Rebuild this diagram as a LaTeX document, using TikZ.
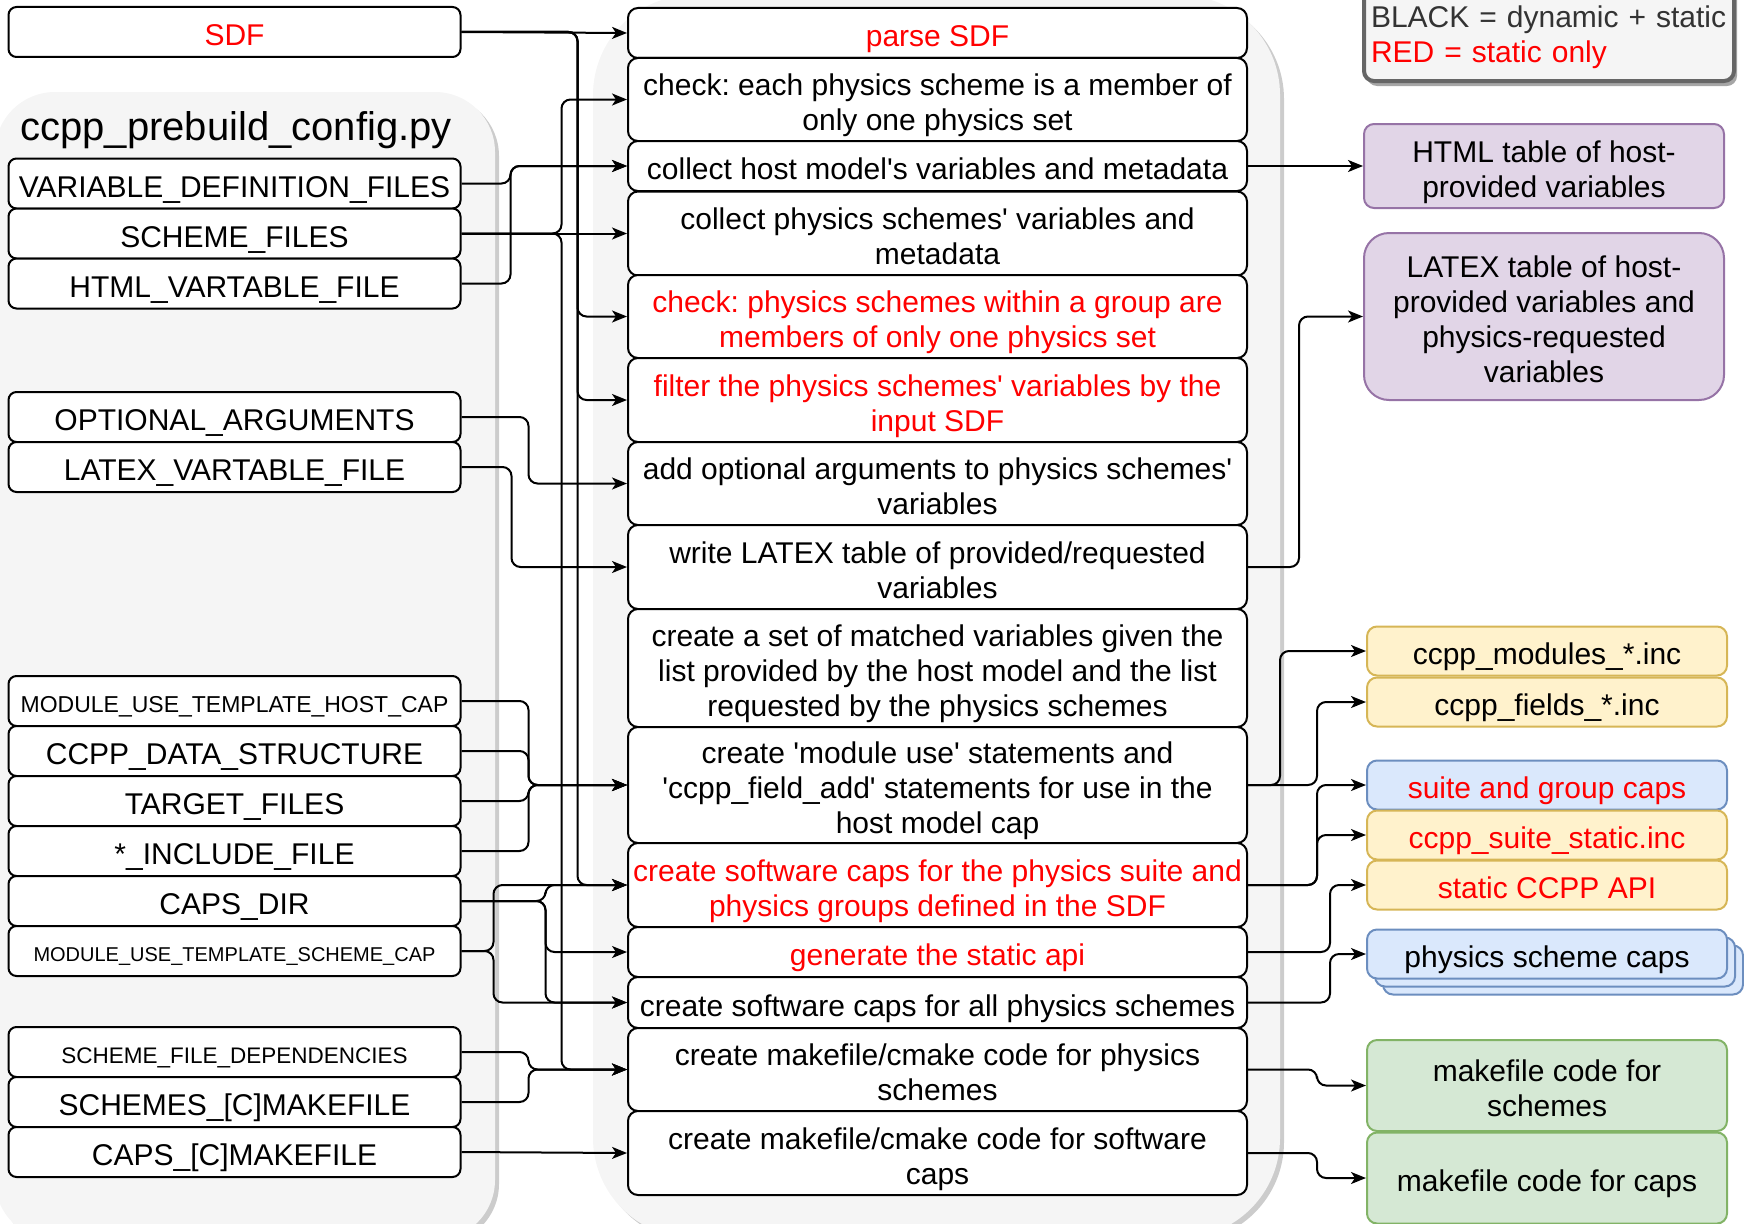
\documentclass[tikz,border=0pt]{standalone}
\usepackage{fontspec}
\setmainfont{Liberation Sans}
\usetikzlibrary{arrows.meta,shadows}
\definecolor{bggrey}{HTML}{F5F5F5}
\definecolor{legendedge}{HTML}{666666}
\definecolor{purplefill}{HTML}{E1D5E7}
\definecolor{purpleedge}{HTML}{9673A6}
\definecolor{yellowfill}{HTML}{FFF2CC}
\definecolor{yellowedge}{HTML}{D6B656}
\definecolor{bluefill}{HTML}{DAE8FC}
\definecolor{blueedge}{HTML}{6C8EBF}
\definecolor{greenfill}{HTML}{D5E8D4}
\definecolor{greenedge}{HTML}{82B366}
\definecolor{redtext}{HTML}{FF0000}
\newcommand{\aq}{\textquotesingle}
\frenchspacing

\begin{document}
\begin{tikzpicture}[x=1pt,y=-1pt,
    every node/.style={font=\fontsize{30}{35}\selectfont, inner sep=0pt, align=center, text height=30pt, text depth=2.5pt},
    twolines/.style={text height=65pt},
    threelines/.style={text height=100pt},
    fourlines/.style={text height=135pt},
    cfgbox/.style={draw, fill=white, line width=2pt, rounded corners=8pt, minimum width=452pt, minimum height=50pt},
    stepbox/.style={draw, fill=white, line width=2pt, rounded corners=10pt, minimum width=619pt},
    outbox/.style={draw, line width=2pt, rounded corners=10pt, minimum width=360pt, minimum height=49pt},
    purplebox/.style={outbox, fill=purplefill, draw=purpleedge},
    yellowbox/.style={outbox, fill=yellowfill, draw=yellowedge},
    bluebox/.style={outbox, fill=bluefill, draw=blueedge},
    greenbox/.style={outbox, fill=greenfill, draw=greenedge},
    container/.style={fill=bggrey, drop shadow={shadow xshift=4pt, shadow yshift=-4pt, fill=black!20, opacity=1}},
    conn/.style={line width=2pt, rounded corners=9pt, -{Stealth[length=15pt,width=12pt,inset=4pt]}}]
    \path[use as bounding box, clip] (0,0) rectangle (1744,1223);

    \path[container, rounded corners=60pt] (-5,92) rectangle (495,1240);
    \path[container, rounded corners=100pt] (593,-5) rectangle (1280,1238);

    \node[font=\fontsize{40}{48}\selectfont, text height=38pt, text depth=3.4pt] (cfgtitle) at (236,123) {ccpp\_prebuild\_config.py};

    \node[cfgbox, text=redtext] (sdf) at (234.5,32) {SDF};
    \node[cfgbox] (vardef) at (234.5,183.5) {VARIABLE\_DEFINITION\_FILES};
    \node[cfgbox] (schemefiles) at (234.5,233.5) {SCHEME\_FILES};
    \node[cfgbox] (htmlfile) at (234.5,283.5) {HTML\_VARTABLE\_FILE};
    \node[cfgbox] (optargs) at (234.5,417) {OPTIONAL\_ARGUMENTS};
    \node[cfgbox] (latexfile) at (234.5,467) {LATEX\_VARTABLE\_FILE};
    \node[cfgbox, font=\fontsize{23}{27}\selectfont, text height=25pt] (hostcap) at (234.5,701) {MODULE\_USE\_TEMPLATE\_HOST\_CAP};
    \node[cfgbox] (datastruct) at (234.5,751) {CCPP\_DATA\_STRUCTURE};
    \node[cfgbox] (targetfiles) at (234.5,801) {TARGET\_FILES};
    \node[cfgbox] (includefile) at (234.5,851) {*\_INCLUDE\_FILE};
    \node[cfgbox] (capsdir) at (234.5,901) {CAPS\_DIR};
    \node[cfgbox, font=\fontsize{20}{24}\selectfont, text height=23pt] (schemecap) at (234.5,951) {MODULE\_USE\_TEMPLATE\_SCHEME\_CAP};
    \node[cfgbox, font=\fontsize{22.5}{27}\selectfont, text height=25pt] (schemedeps) at (234.5,1052) {SCHEME\_FILE\_DEPENDENCIES};
    \node[cfgbox] (schemesmake) at (234.5,1102) {SCHEMES\_[C]MAKEFILE};
    \node[cfgbox] (capsmake) at (234.5,1152) {CAPS\_[C]MAKEFILE};

    \node[stepbox, minimum height=50pt, text=redtext] (parse) at (937.5,33) {parse SDF};
    \node[stepbox, twolines, minimum height=83pt] (chkset) at (937.5,99.5) {check: each physics scheme is a member of\\only one physics set};
    \node[stepbox, minimum height=50pt] (collhost) at (937.5,166) {collect host model\aq s variables and metadata};
    \node[stepbox, twolines, minimum height=84pt] (collphys) at (937.5,233.5) {collect physics schemes\aq\ variables and\\metadata};
    \node[stepbox, twolines, minimum height=83pt, text=redtext] (chkgrp) at (937.5,316.5) {check: physics schemes within a group are\\members of only one physics set};
    \node[stepbox, twolines, minimum height=84pt, text=redtext] (filter) at (937.5,400) {filter the physics schemes\aq\ variables by the\\input SDF};
    \node[stepbox, twolines, minimum height=83pt] (addopt) at (937.5,483.5) {add optional arguments to physics schemes\aq\\variables};
    \node[stepbox, twolines, minimum height=84pt] (writelatex) at (937.5,567) {write LATEX table of provided/requested\\variables};
    \node[stepbox, threelines, minimum height=118pt] (match) at (937.5,668) {create a set of matched variables given the\\list provided by the host model and the list\\requested by the physics schemes};
    \node[stepbox, threelines, minimum height=116pt] (moduse) at (937.5,785) {create \aq module use\aq\ statements and\\\aq ccpp\_field\_add\aq\ statements for use in the\\host model cap};
    \node[stepbox, twolines, minimum height=84pt, text=redtext] (suitecap) at (937.5,885) {create software caps for the physics suite and\\physics groups defined in the SDF};
    \node[stepbox, minimum height=50pt, text=redtext] (staticapi) at (937.5,952) {generate the static api};
    \node[stepbox, minimum height=51pt] (allcaps) at (937.5,1002.5) {create software caps for all physics schemes};
    \node[stepbox, twolines, minimum height=83pt] (mkphys) at (937.5,1069.5) {create makefile/cmake code for physics\\schemes};
    \node[stepbox, twolines, minimum height=84pt] (mkswcaps) at (937.5,1153) {create makefile/cmake code for software\\caps};

    \node[draw=legendedge, line width=4pt, fill=bggrey, rounded corners=10pt, minimum width=370pt, minimum height=100pt, inner xsep=7pt, text width=356pt, align=left, text height=30pt, text depth=37.5pt, text=black!80, drop shadow={shadow xshift=3pt, shadow yshift=-5pt, fill=black!35, opacity=1}] (legend) at (1549,31) {BLACK = dynamic + static\\\textcolor{redtext}{RED = static only}};

    \node[purplebox, twolines, minimum height=84pt] (htmltab) at (1544,166) {HTML table of host-\\provided variables};
    \node[purplebox, fourlines, minimum height=167pt, rounded corners=25pt] (latextab) at (1544,316.5) {LATEX table of host-\\provided variables and\\physics-requested\\variables};
    \node[yellowbox] (modinc) at (1547,651) {ccpp\_modules\_*.inc};
    \node[yellowbox] (fieldinc) at (1547,702) {ccpp\_fields\_*.inc};
    \node[bluebox, text=redtext] (groupcaps) at (1547,785) {suite and group caps};
    \node[yellowbox, text=redtext] (suiteinc) at (1547,835) {ccpp\_suite\_static.inc};
    \node[yellowbox, text=redtext] (ccppapi) at (1547,885) {static CCPP API};
    \node[bluebox] (schemecapsc) at (1563,970) {};
    \node[bluebox] (schemecapsb) at (1555,962) {};
    \node[bluebox] (schemecaps) at (1547,954) {physics scheme caps};
    \node[greenbox, twolines, minimum height=91pt] (mkschemes) at (1547,1085.5) {makefile code for\\schemes};
    \node[greenbox, minimum height=91pt] (mkcapsout) at (1547,1178) {makefile code for caps};

    \draw[conn](sdf.east)--(parse.west);
    \draw[conn](sdf.east)--++(116,0)|-(chkgrp.west);
    \draw[conn](sdf.east)--++(116,0)|-(filter.west);
    \draw[conn](sdf.east)--++(116,0)|-(suitecap.west);
    \draw[conn](schemefiles.east)--(collphys.west);
    \draw[conn](schemefiles.east)--++(100,0)|-(chkset.west);
    \draw[conn](schemefiles.east)--++(100,0)|-(mkphys.west);
    \draw[conn](vardef.east)--++(49,0)|-(collhost.west);
    \draw[conn](htmlfile.east)--++(49,0)|-(collhost.west);
    \draw[conn](optargs.east)--++(67,0)|-(addopt.west);
    \draw[conn](latexfile.east)--++(50,0)|-(writelatex.west);
    \draw[conn](hostcap.east)--++(67,0)|-(moduse.west);
    \draw[conn](datastruct.east)--++(67,0)|-(moduse.west);
    \draw[conn](targetfiles.east)--++(67,0)|-(moduse.west);
    \draw[conn](includefile.east)--++(67,0)|-(moduse.west);
    \draw[conn](capsdir.east)--++(84,0)|-(suitecap.west);
    \draw[conn](capsdir.east)--++(84,0)|-(staticapi.west);
    \draw[conn](capsdir.east)--++(84,0)|-(allcaps.west);
    \draw[conn](schemecap.east)--++(32,0)|-(suitecap.west);
    \draw[conn](schemecap.east)--++(32,0)|-(allcaps.west);
    \draw[conn](schemedeps.east)--++(67,0)|-(mkphys.west);
    \draw[conn](schemesmake.east)--++(67,0)|-(mkphys.west);
    \draw[conn](capsmake.east)--(mkswcaps.west);

    \draw[conn](collhost.east)--(htmltab.west);
    \draw[conn](writelatex.east)--++(51,0)|-(latextab.west);
    \draw[conn](moduse.east)--++(32,0)|-(modinc.west);
    \draw[conn](moduse.east)--++(69,0)|-(fieldinc.west);
    \draw[conn](suitecap.east)--++(69,0)|-(groupcaps.west);
    \draw[conn](suitecap.east)--++(69,0)|-(suiteinc.west);
    \draw[conn](staticapi.east)--++(82,0)|-(ccppapi.west);
    \draw[conn](allcaps.east)--++(82,0)|-(schemecaps.west);
    \draw[conn](mkphys.east)--++(69,0)|-(mkschemes.west);
    \draw[conn](mkswcaps.east)--++(69,0)|-(mkcapsout.west);
\end{tikzpicture}
\end{document}
